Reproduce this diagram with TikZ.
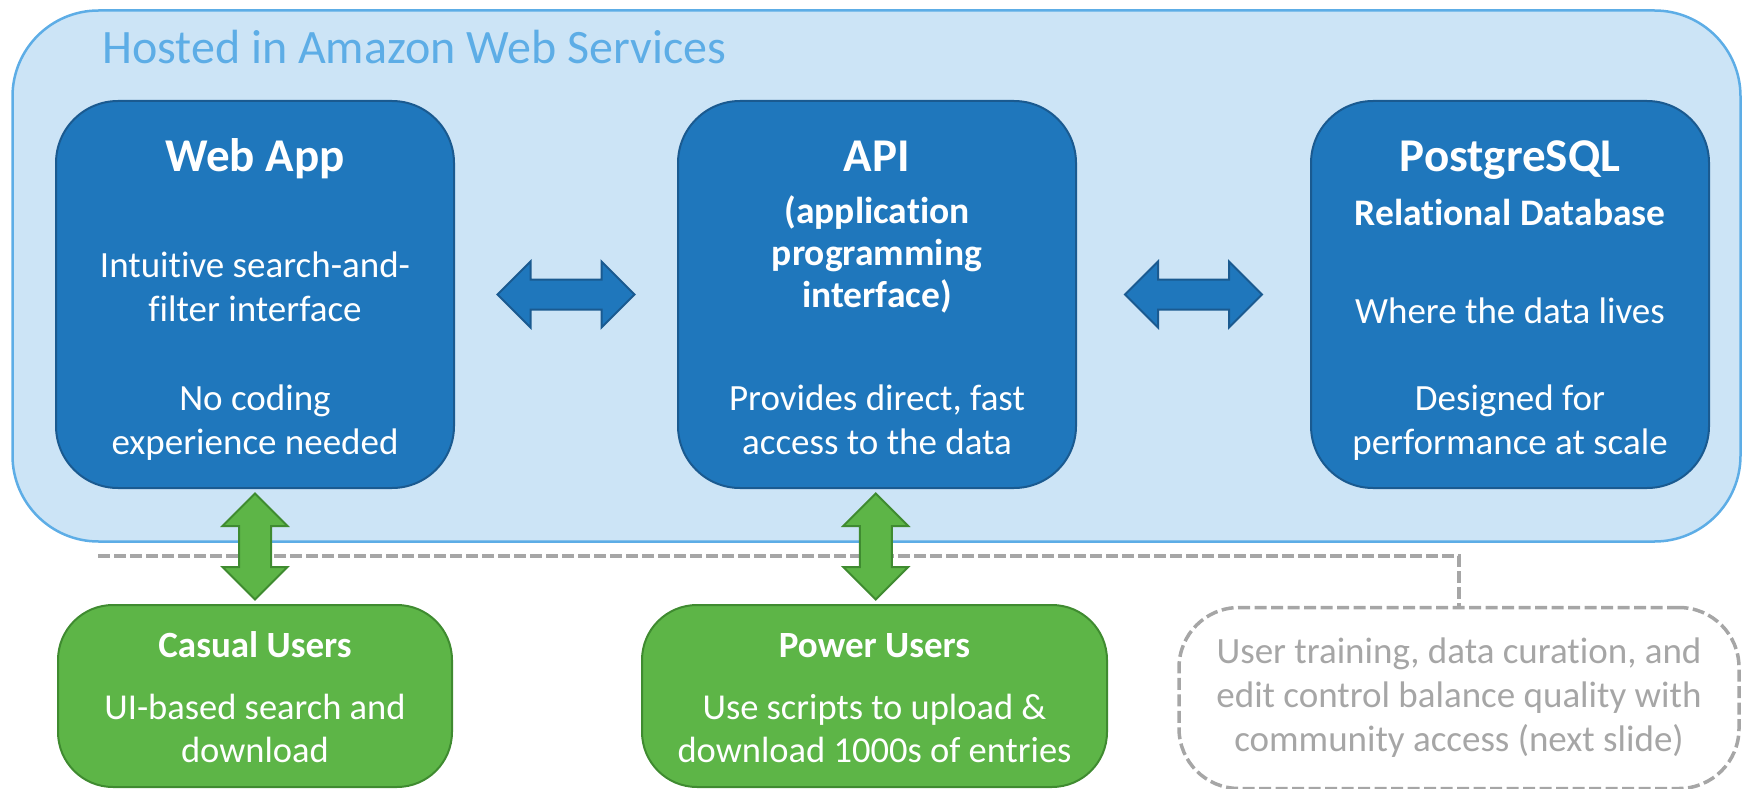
\documentclass[tikz,border=0pt]{standalone}
\usepackage{fontspec}
\setmainfont{Carlito}[Ligatures={NoCommon,NoContextual}]
\usepackage{tikz}
\usetikzlibrary{shapes.arrows,calc}
\definecolor{awsfill}{HTML}{CCE4F6}
\definecolor{awsline}{HTML}{5DADE6}
\definecolor{boxfill}{HTML}{1F77BC}
\definecolor{boxline}{HTML}{1A5A90}
\definecolor{usrfill}{HTML}{5DB547}
\definecolor{usrline}{HTML}{3F8B30}
\definecolor{notegray}{HTML}{A6A6A6}

\begin{document}
\begin{tikzpicture}[x=1pt,y=-1pt,
  aws/.style={draw=awsline,fill=awsfill,line width=2.5pt,rounded corners=86pt,minimum width=1728pt,minimum height=531pt},
  svc/.style={draw=boxline,fill=boxfill,line width=2pt,rounded corners=62pt,minimum width=398pt,minimum height=387pt},
  usr/.style={draw=usrline,fill=usrfill,line width=2pt,rounded corners=55pt,minimum height=182pt},
  note/.style={draw=notegray,line width=3.5pt,dash pattern=on 12pt off 4.5pt,rounded corners=60pt,
    minimum width=560pt,minimum height=181pt,text=notegray,align=center,font=\fontsize{37}{44}\selectfont},
  sep/.style={draw=notegray,line width=3.5pt,dash pattern=on 12pt off 4pt},
  hlink/.style={double arrow,draw=boxline,fill=boxfill,line width=2pt,inner xsep=0pt,inner ysep=14pt,
    double arrow head extend=18pt,minimum width=64pt,minimum height=137pt},
  vlink/.style={double arrow,rotate=90,draw=usrline,fill=usrfill,line width=2pt,inner xsep=0pt,inner ysep=15pt,
    double arrow head extend=16.5pt,minimum width=63pt,minimum height=106pt},
  hd/.style={text=white,anchor=base,font=\bfseries\fontsize{47}{56}\selectfont},
  sub/.style={text=white,anchor=base,align=center,font=\bfseries\fontsize{37.5}{42}\selectfont},
  bd/.style={text=white,anchor=base,align=center,font=\fontsize{37}{44}\selectfont},
  uhd/.style={text=white,anchor=base,font=\bfseries\fontsize{37}{44}\selectfont},
  ubd/.style={text=white,anchor=base,align=center,font=\fontsize{36.5}{43}\selectfont}]
\useasboundingbox (0,0) rectangle (1742,789);
\node[aws] (cloud) at (876.5,276) {};
\node[anchor=base west,inner sep=0pt,text=awsline,font=\fontsize{48}{56}\selectfont] (cloudtitle) at (102,64) {Hosted in Amazon Web Services};
\node[note] (note) at (1459,698) {User training, data curation, and\\edit control balance quality with\\community access (next slide)};
\coordinate (cut) at (98,556);
\draw[sep] (cut) -| (note.north);
\node[svc] (webapp) at (255,294.5) {};
\node[svc] (api) at (877,294.5) {};
\node[svc] (pg) at (1510,294.5) {};
\node[usr,minimum width=394pt] (casual) at (255,696) {};
\node[usr,minimum width=465pt] (power) at (874.5,696) {};
\node[hlink] (webapi) at ($(webapp.east)!0.5!(api.west)$) {};
\node[hlink] (apipg) at ($(api.east)!0.5!(pg.west)$) {};
\node[vlink] (webcasual) at ($(webapp.south)!0.5!(casual.north)$) {};
\node[vlink] (apipower) at ($(api.south)!0.5!(power.north)$) {};
\node[hd] (webapph) at (255,171) {Web App};
\node[bd] (webappa) at (255,321) {Intuitive search-and-\\filter interface};
\node[bd] (webappb) at (255,454) {No coding\\experience needed};
\node[hd] (apih) at (877,171) {API};
\node[sub] (apis) at (877,307) {(application\\programming\\interface)};
\node[bd] (apia) at (877,454) {Provides direct, fast\\access to the data};
\node[hd] (pgh) at (1510,171) {PostgreSQL};
\node[sub] (pgs) at (1510,225) {Relational Database};
\node[bd] (pga) at (1510,323) {Where the data lives};
\node[bd] (pgb) at (1510,454) {Designed for\\performance at scale};
\node[uhd] (casualh) at (255,657) {Casual Users};
\node[ubd] (casuala) at (255,762) {UI-based search and\\download};
\node[uhd] (powerh) at (874.5,657) {Power Users};
\node[ubd] (powera) at (874.5,762) {Use scripts to upload \&\\download 1000s of entries};
\end{tikzpicture}
\end{document}
